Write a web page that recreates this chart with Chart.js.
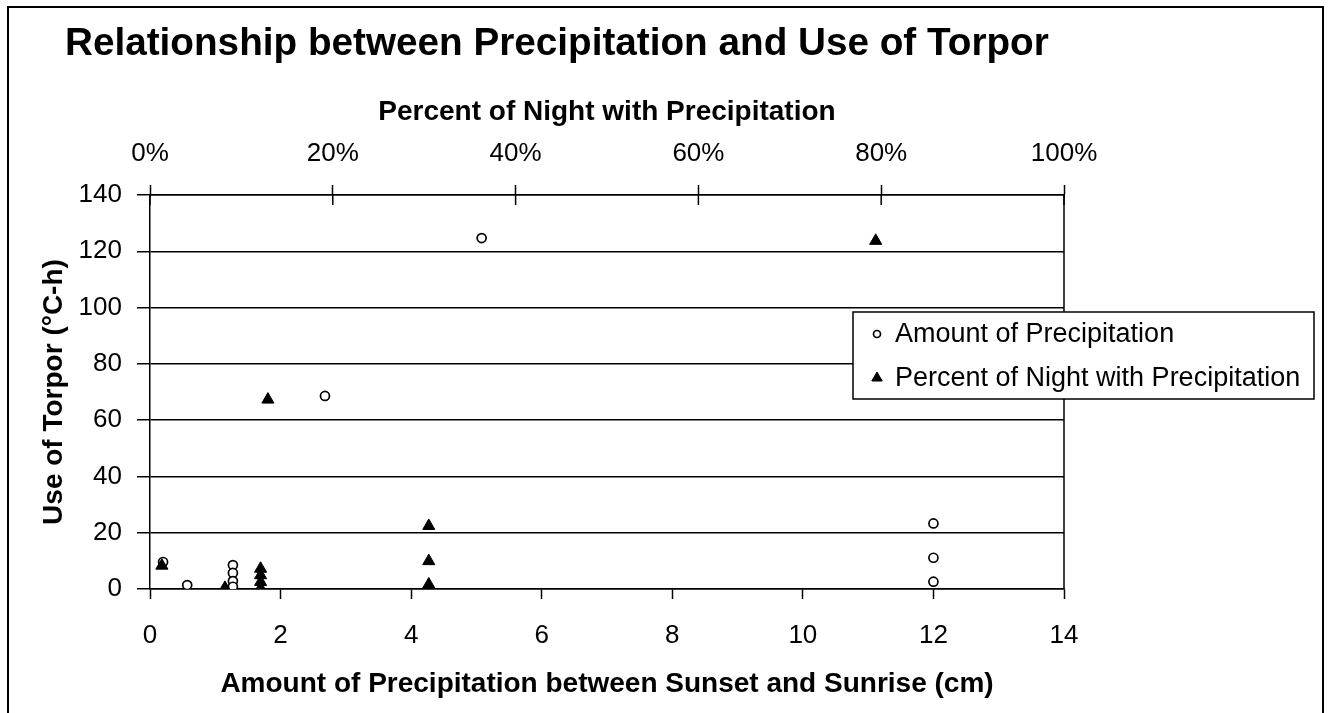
<!DOCTYPE html>
<html>
<head>
<meta charset="utf-8">
<script src="https://cdn.jsdelivr.net/npm/chart.js@4"></script>
<style>
  html, body { margin: 0; padding: 0; background: #fff; overflow: hidden; }
  #wrap { position: relative; width: 1331px; height: 713px; }
  #chart { position: absolute; left: 0; top: 0; }
  #frame {
    position: absolute; left: 7px; top: 6px; width: 1313px; height: 730px;
    border: 2px solid #000; pointer-events: none;
  }
</style>
</head>
<body>
<div id="wrap">
  <canvas id="chart" width="1331" height="713"></canvas>
  <div id="frame"></div>
</div>
<script>
const chartTitle = 'Relationship between Precipitation and Use of Torpor';
const seriesNames = ['Amount of Precipitation', 'Percent of Night with Precipitation'];

// circles: bottom axis, cm of precipitation
const amountCm = [5.08, 2.68, 12.0, 12.0, 12.0, 0.2, 0.57, 1.27, 1.27, 1.27, 1.27];
const amountTorpor = [124.7, 68.6, 23.3, 11.1, 2.6, 9.6, 1.4, 8.5, 5.7, 2.8, 0.8];

// triangles: top axis, percent of night
const nightPct = [79.4, 12.9, 30.5, 30.5, 30.5, 1.3, 8.2, 12.1, 12.1, 12.1, 12.1];
const nightTorpor = [123.7, 67.3, 22.4, 9.9, 1.6, 8.3, 0.4, 7.2, 4.9, 2.5, 0.3];

const cmTicks = [0, 2, 4, 6, 8, 10, 12, 14];
const pctTicks = [0, 20, 40, 60, 80, 100];
const torporTicks = [0, 20, 40, 60, 80, 100, 120, 140];

const FONT = 'Arial, "Liberation Sans", sans-serif';

const fixTicks = list => scale => { scale.ticks = list.map(v => ({ value: v })); };

// title, right border, inner halves of top ticks, legend box
const decor = {
    id: 'decor',
    afterDraw(chart) {
        const ctx = chart.ctx;
        const area = chart.chartArea;
        ctx.save();

        ctx.fillStyle = '#000';
        ctx.font = 'bold 38.7px ' + FONT;
        ctx.textBaseline = 'middle';
        ctx.textAlign = 'left';
        ctx.fillText(chartTitle, 65, 44);

        ctx.strokeStyle = '#000';
        ctx.lineWidth = 1.5;
        ctx.beginPath();
        ctx.moveTo(area.right, area.top);
        ctx.lineTo(area.right, area.bottom);
        ctx.stroke();

        const top = chart.scales.x2;
        top.ticks.forEach(t => {
            const px = top.getPixelForValue(t.value);
            ctx.beginPath();
            ctx.moveTo(px, area.top);
            ctx.lineTo(px, area.top + 10);
            ctx.stroke();
        });

        // legend
        const box = { x: 853, y: 312, w: 461, h: 87 };
        ctx.fillStyle = '#fff';
        ctx.fillRect(box.x, box.y, box.w, box.h);
        ctx.strokeStyle = '#000';
        ctx.lineWidth = 1.5;
        ctx.strokeRect(box.x, box.y, box.w, box.h);

        ctx.font = '27px ' + FONT;
        ctx.textAlign = 'left';
        ctx.textBaseline = 'middle';
        chart.data.datasets.forEach((ds, i) => {
            const y = box.y + 22 + i * 44;
            ctx.fillStyle = ds.backgroundColor;
            ctx.strokeStyle = ds.borderColor;
            ctx.lineWidth = ds.borderWidth;
            Chart.helpers.drawPoint(ctx, {
                pointStyle: ds.pointStyle,
                radius: i === 0 ? 3.5 : 6,
                rotation: 0,
                borderWidth: ds.borderWidth
            }, box.x + 24, y);
            ctx.fillStyle = '#000';
            ctx.fillText(ds.label, box.x + 42, y + 1);
        });
        ctx.restore();
    }
};

new Chart(document.getElementById('chart'), {
    type: 'scatter',
    data: {
        datasets: [{
            label: seriesNames[0],
            data: amountCm.map((v, i) => ({ x: v, y: amountTorpor[i] })),
            xAxisID: 'x',
            yAxisID: 'y',
            pointStyle: 'circle',
            pointRadius: 4.5,
            backgroundColor: '#fff',
            borderColor: '#000',
            borderWidth: 1.7,
            order: 1
        }, {
            label: seriesNames[1],
            data: nightPct.map((v, i) => ({ x: v, y: nightTorpor[i] })),
            xAxisID: 'x2',
            yAxisID: 'y',
            pointStyle: 'triangle',
            pointRadius: 7,
            backgroundColor: '#000',
            borderColor: '#000',
            borderWidth: 1,
            order: 0
        }]
    },
    options: {
        responsive: false,
        animation: false,
        events: [],
        layout: { padding: { left: 0, top: 0, right: 267, bottom: 0 } },
        plugins: {
            legend: { display: false },
            tooltip: { enabled: false },
            title: { display: false }
        },
        scales: {
            x: {
                type: 'linear',
                position: 'bottom',
                min: 0,
                max: 14,
                afterBuildTicks: fixTicks(cmTicks),
                afterFit: s => { s.height = 124; },
                grid: {
                    drawOnChartArea: false,
                    drawTicks: true,
                    tickLength: 10,
                    tickColor: '#000',
                    tickWidth: 1.5
                },
                border: { display: true, color: '#000', width: 1.5 },
                ticks: {
                    padding: 21,
                    color: '#000',
                    maxRotation: 0,
                    autoSkip: false,
                    font: { family: FONT, size: 26 }
                },
                title: {
                    display: true,
                    text: 'Amount of Precipitation between Sunset and Sunrise (cm)',
                    color: '#000',
                    padding: { top: 0, bottom: 12 },
                    font: { family: FONT, size: 28, weight: 'bold' }
                }
            },
            x2: {
                type: 'linear',
                position: 'top',
                min: 0,
                max: 100,
                afterBuildTicks: fixTicks(pctTicks),
                afterFit: s => { s.height = 195; },
                grid: {
                    drawOnChartArea: false,
                    drawTicks: true,
                    tickLength: 10,
                    tickColor: '#000',
                    tickWidth: 1.5
                },
                border: { display: true, color: '#000', width: 1.5 },
                ticks: {
                    padding: 16,
                    color: '#000',
                    maxRotation: 0,
                    autoSkip: false,
                    font: { family: FONT, size: 26 },
                    callback: v => v + '%'
                },
                title: {
                    display: true,
                    text: 'Percent of Night with Precipitation',
                    color: '#000',
                    padding: { top: 95, bottom: 0 },
                    font: { family: FONT, size: 28, weight: 'bold' }
                }
            },
            y: {
                type: 'linear',
                position: 'left',
                min: 0,
                max: 140,
                afterBuildTicks: fixTicks(torporTicks),
                afterFit: s => { s.width = 150; },
                grid: {
                    color: '#000',
                    lineWidth: 1.5,
                    drawTicks: true,
                    tickLength: 13,
                    tickColor: '#000'
                },
                border: { display: true, color: '#000', width: 1.5 },
                ticks: {
                    padding: 15,
                    color: '#000',
                    autoSkip: false,
                    font: { family: FONT, size: 26 }
                },
                title: {
                    display: true,
                    text: 'Use of Torpor (°C-h)',
                    color: '#000',
                    padding: { top: 37, bottom: 0 },
                    font: { family: FONT, size: 28, weight: 'bold' }
                }
            }
        }
    },
    plugins: [decor]
});
</script>
</body>
</html>
